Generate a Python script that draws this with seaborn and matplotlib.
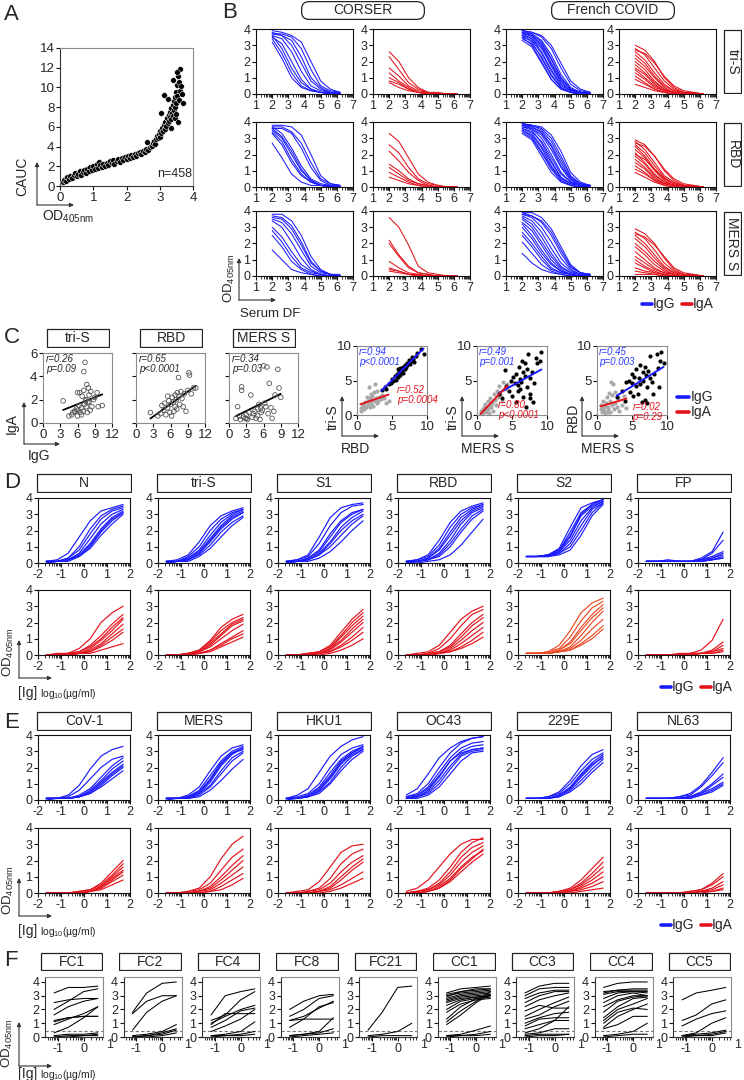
import numpy as np
import pandas as pd
import matplotlib
matplotlib.use("Agg")
import matplotlib.pyplot as plt
import seaborn as sns
from matplotlib.patches import FancyBboxPatch, FancyArrowPatch
from matplotlib.lines import Line2D

# ======================= DATA =======================
# Panel A: OD405nm vs CAUC
A_od = [0.08,0.12,0.18,0.22,0.27,0.31,0.36,0.41,0.45,0.5,0.55,0.6,0.63,0.68,0.72,0.77,0.82,0.86,0.9,0.95,
        1.0,1.04,1.1,1.13,1.17,1.2,1.25,1.3,1.36,1.4,1.45,1.5,1.55,1.6,1.63,1.7,1.75,1.8,1.86,1.9,1.95,
        2.0,2.05,2.1,2.15,2.2,2.25,2.3,2.35,2.4,2.45,2.5,2.55,2.6,2.65,2.7,2.73,2.77,2.8,2.83,2.86,2.9,
        2.92,2.95,2.98,3.0,3.02,3.05,3.07,3.1,3.12,3.15,3.17,3.2,3.22,3.24,3.27,3.29,3.3,3.32,3.34,3.35,
        3.37,3.39,3.4,3.42,3.43,3.45,3.46,3.48,3.5,3.52,3.53,3.55,3.57,3.58,3.6,3.62,3.64,3.68,3.12,3.25,
        3.33,3.45,3.5,3.7,3.55,2.62,3.05,3.4,3.52]
A_cauc = [0.4,0.6,0.5,0.9,0.7,1.0,0.8,1.1,1.3,1.0,1.2,1.5,1.1,1.4,1.6,1.3,1.7,1.5,1.9,1.6,
          2.0,1.7,2.2,1.8,2.4,2.1,1.9,2.2,2.0,2.3,2.1,2.5,2.3,2.6,2.2,2.5,2.7,2.4,2.8,2.6,2.9,
          2.7,3.0,2.8,3.1,2.9,3.2,3.0,3.3,3.4,3.2,3.6,3.5,3.8,3.7,4.0,4.2,4.1,4.4,4.6,4.3,4.8,
          5.1,4.9,5.3,5.0,5.6,5.4,5.9,5.6,6.2,5.8,6.5,6.1,6.9,6.4,7.2,6.6,7.5,7.0,7.9,6.8,
          7.4,8.2,7.1,8.6,7.7,9.0,8.0,9.5,8.4,10.2,9.1,11.2,8.7,10.6,11.9,9.6,10.1,9.3,9.2,8.8,
          5.9,6.9,7.3,8.4,6.5,4.5,7.4,10.8,11.6]

# Panel B: serum dilution curves (x = log10 dilution factor)
B_x = [2.0, 2.6, 3.2, 3.8, 4.4, 5.0, 5.6, 6.2]
B_row_labels = ["tri-S", "RBD", "MERS S"]
B_cohorts = ["CORSER", "French COVID"]

B_triS_corser_igg = [[3.9,3.8,3.6,3.2,2.0,0.8,0.3,0.1],[3.7,3.7,3.5,2.8,1.5,0.5,0.2,0.1],[3.8,3.6,3.3,2.3,1.0,0.4,0.1,0.1],
                     [3.6,3.4,2.6,1.4,0.5,0.2,0.1,0.0],[3.5,3.1,2.0,0.9,0.3,0.1,0.1,0.0],[3.6,2.8,1.6,0.7,0.3,0.1,0.0,0.0],
                     [3.4,2.5,1.3,0.5,0.2,0.1,0.0,0.0],[3.2,2.2,1.0,0.4,0.2,0.1,0.0,0.0],[3.7,3.6,3.0,1.9,0.8,0.3,0.1,0.0]]
B_triS_corser_iga = [[2.6,2.0,1.0,0.4,0.1,0.1,0.0,0.0],[2.3,1.5,0.7,0.3,0.1,0.0,0.0,0.0],[1.6,1.1,0.5,0.2,0.1,0.0,0.0,0.0],
                     [1.3,0.8,0.4,0.1,0.1,0.0,0.0,0.0],[0.8,0.6,0.3,0.1,0.0,0.0,0.0,0.0],[0.7,0.4,0.2,0.1,0.0,0.0,0.0,0.0],
                     [1.0,0.7,0.3,0.1,0.0,0.0,0.0,0.0]]
B_triS_french_igg = [[3.9,3.8,3.5,2.8,1.6,0.6,0.2,0.1],[3.8,3.7,3.3,2.4,1.2,0.4,0.1,0.1],[3.7,3.6,3.1,2.1,1.0,0.3,0.1,0.1],
                     [3.9,3.7,3.2,2.2,1.0,0.3,0.1,0.0],[3.6,3.4,2.8,1.8,0.8,0.3,0.1,0.0],[3.8,3.5,2.9,1.7,0.7,0.2,0.1,0.0],
                     [3.5,3.3,2.5,1.4,0.5,0.2,0.1,0.0],[3.7,3.4,2.6,1.5,0.6,0.2,0.1,0.0],[3.4,3.1,2.3,1.2,0.4,0.1,0.0,0.0],
                     [3.6,3.2,2.2,1.1,0.4,0.1,0.1,0.0],[3.5,3.0,2.0,0.9,0.3,0.1,0.0,0.0],[3.9,3.8,3.6,3.0,1.9,0.8,0.3,0.1],
                     [3.3,2.9,1.9,0.9,0.3,0.1,0.0,0.0],[3.8,3.6,3.0,1.9,0.9,0.3,0.1,0.0]]
B_triS_french_iga = [[3.0,2.7,2.0,1.0,0.4,0.1,0.1,0.0],[2.8,2.4,1.6,0.8,0.3,0.1,0.0,0.0],[2.6,2.1,1.3,0.6,0.2,0.1,0.0,0.0],
                     [2.4,1.9,1.1,0.5,0.2,0.1,0.0,0.0],[2.2,1.7,1.0,0.4,0.1,0.0,0.0,0.0],[2.0,1.5,0.8,0.3,0.1,0.0,0.0,0.0],
                     [1.8,1.3,0.7,0.3,0.1,0.0,0.0,0.0],[1.6,1.2,0.6,0.2,0.1,0.0,0.0,0.0],[1.5,1.0,0.5,0.2,0.1,0.0,0.0,0.0],
                     [1.3,0.9,0.4,0.2,0.1,0.0,0.0,0.0],[1.1,0.7,0.3,0.1,0.0,0.0,0.0,0.0],[0.9,0.6,0.3,0.1,0.0,0.0,0.0,0.0],
                     [0.6,0.4,0.2,0.1,0.0,0.0,0.0,0.0],[2.7,2.5,1.9,1.1,0.5,0.2,0.1,0.0]]
B_RBD_corser_igg = [[3.8,3.8,3.7,3.2,2.0,0.7,0.2,0.1],[3.7,3.7,3.4,2.7,1.5,0.5,0.2,0.1],[3.6,3.6,3.3,2.4,1.2,0.4,0.1,0.1],
                    [3.7,3.3,2.4,1.3,0.5,0.2,0.1,0.0],[3.5,3.0,2.0,1.0,0.4,0.1,0.1,0.0],[3.4,2.8,1.7,0.8,0.3,0.1,0.0,0.0],
                    [3.6,3.1,2.2,1.1,0.4,0.1,0.0,0.0],[3.3,2.6,1.5,0.7,0.3,0.1,0.0,0.0],[2.7,1.8,0.8,0.3,0.1,0.1,0.0,0.0]]
B_RBD_corser_iga = [[3.3,2.8,1.8,0.8,0.3,0.1,0.0,0.0],[2.6,2.1,1.2,0.5,0.2,0.1,0.0,0.0],[2.2,1.6,0.9,0.4,0.1,0.0,0.0,0.0],
                    [1.4,1.0,0.5,0.2,0.1,0.0,0.0,0.0],[1.2,0.8,0.4,0.2,0.1,0.0,0.0,0.0],[0.9,0.6,0.3,0.1,0.0,0.0,0.0,0.0],
                    [0.6,0.4,0.2,0.1,0.0,0.0,0.0,0.0]]
B_RBD_french_igg = [[3.9,3.8,3.7,3.2,2.2,0.9,0.3,0.1],[3.8,3.8,3.6,3.0,1.9,0.7,0.2,0.1],[3.9,3.7,3.4,2.6,1.5,0.5,0.2,0.1],
                    [3.7,3.6,3.2,2.3,1.2,0.4,0.1,0.1],[3.8,3.6,3.0,2.0,0.9,0.3,0.1,0.0],[3.6,3.4,2.8,1.8,0.8,0.3,0.1,0.0],
                    [3.7,3.5,2.7,1.6,0.6,0.2,0.1,0.0],[3.5,3.2,2.4,1.3,0.5,0.2,0.1,0.0],[3.6,3.3,2.5,1.5,0.6,0.2,0.1,0.0],
                    [3.4,3.0,2.1,1.1,0.4,0.1,0.0,0.0],[3.3,2.9,1.9,0.9,0.3,0.1,0.0,0.0],[3.8,3.7,3.3,2.5,1.3,0.5,0.1,0.0],
                    [3.5,3.1,2.2,1.2,0.4,0.1,0.0,0.0],[3.9,3.8,3.5,2.8,1.7,0.6,0.2,0.1]]
B_RBD_french_iga = [[2.9,2.6,1.9,1.0,0.4,0.1,0.1,0.0],[2.8,2.3,1.5,0.7,0.3,0.1,0.0,0.0],[2.6,2.1,1.3,0.6,0.2,0.1,0.0,0.0],
                    [2.5,1.9,1.1,0.5,0.2,0.1,0.0,0.0],[2.3,1.8,1.0,0.4,0.1,0.0,0.0,0.0],[2.1,1.5,0.8,0.3,0.1,0.0,0.0,0.0],
                    [1.9,1.4,0.7,0.3,0.1,0.0,0.0,0.0],[1.7,1.2,0.6,0.2,0.1,0.0,0.0,0.0],[1.5,1.1,0.5,0.2,0.1,0.0,0.0,0.0],
                    [1.3,0.9,0.4,0.2,0.1,0.0,0.0,0.0],[1.1,0.8,0.4,0.1,0.0,0.0,0.0,0.0],[0.9,0.6,0.3,0.1,0.0,0.0,0.0,0.0],
                    [2.7,2.5,1.9,1.1,0.5,0.2,0.1,0.0],[2.0,1.7,1.1,0.5,0.2,0.1,0.0,0.0]]
B_MERS_corser_igg = [[3.8,3.8,3.4,2.5,1.2,0.4,0.1,0.1],[3.7,3.6,3.1,2.1,0.9,0.3,0.1,0.0],[3.5,3.3,2.6,1.6,0.6,0.2,0.1,0.0],
                     [3.4,3.0,2.1,1.1,0.4,0.1,0.0,0.0],[3.0,2.4,1.5,0.7,0.3,0.1,0.0,0.0],[2.8,2.1,1.2,0.5,0.2,0.1,0.0,0.0],
                     [2.5,1.8,0.9,0.4,0.1,0.0,0.0,0.0],[1.6,1.0,0.4,0.2,0.1,0.0,0.0,0.0],[3.6,3.5,2.9,1.9,0.8,0.3,0.1,0.0]]
B_MERS_corser_iga = [[3.6,3.0,1.9,0.6,0.2,0.1,0.0,0.0],[2.2,1.3,0.6,0.2,0.1,0.0,0.0,0.0],[2.0,1.2,0.5,0.2,0.1,0.0,0.0,0.0],
                     [0.9,0.5,0.2,0.1,0.0,0.0,0.0,0.0],[0.5,0.3,0.1,0.1,0.0,0.0,0.0,0.0],[0.3,0.2,0.1,0.0,0.0,0.0,0.0,0.0],
                     [0.4,0.3,0.1,0.0,0.0,0.0,0.0,0.0]]
B_MERS_french_igg = [[3.9,3.9,3.6,2.9,1.8,0.7,0.2,0.1],[3.9,3.7,3.3,2.5,1.4,0.5,0.2,0.1],[3.8,3.6,3.0,2.1,1.1,0.4,0.1,0.1],
                     [3.7,3.4,2.7,1.7,0.8,0.3,0.1,0.0],[3.6,3.2,2.4,1.4,0.6,0.2,0.1,0.0],[3.5,3.0,2.1,1.2,0.5,0.2,0.1,0.0],
                     [3.3,2.8,1.9,1.0,0.4,0.1,0.0,0.0],[3.2,2.5,1.6,0.8,0.3,0.1,0.0,0.0],[3.0,2.3,1.4,0.7,0.3,0.1,0.0,0.0],
                     [2.7,2.0,1.2,0.5,0.2,0.1,0.0,0.0],[2.5,1.8,1.0,0.4,0.2,0.1,0.0,0.0],[2.1,1.4,0.7,0.3,0.1,0.0,0.0,0.0],
                     [1.4,0.8,0.4,0.2,0.1,0.0,0.0,0.0],[3.8,3.7,3.4,2.7,1.6,0.6,0.2,0.1]]
B_MERS_french_iga = [[2.9,2.6,2.0,1.1,0.4,0.1,0.1,0.0],[2.7,2.3,1.6,0.8,0.3,0.1,0.0,0.0],[2.5,2.0,1.3,0.6,0.2,0.1,0.0,0.0],
                     [2.3,1.8,1.1,0.5,0.2,0.1,0.0,0.0],[2.0,1.5,0.9,0.4,0.1,0.0,0.0,0.0],[1.8,1.3,0.7,0.3,0.1,0.0,0.0,0.0],
                     [1.5,1.0,0.5,0.2,0.1,0.0,0.0,0.0],[1.2,0.8,0.4,0.2,0.1,0.0,0.0,0.0],[1.0,0.6,0.3,0.1,0.0,0.0,0.0,0.0],
                     [0.8,0.5,0.2,0.1,0.0,0.0,0.0,0.0],[0.5,0.3,0.2,0.1,0.0,0.0,0.0,0.0],[0.3,0.2,0.1,0.0,0.0,0.0,0.0,0.0],
                     [0.1,0.1,0.1,0.0,0.0,0.0,0.0,0.0],[2.6,2.4,1.9,1.2,0.5,0.2,0.1,0.0]]

# Panel C (left): IgA vs IgG CAUC
C_titles = ["tri-S", "RBD", "MERS S"]
C_stats = ["r=0.26\np=0.09", "r=0.65\np<0.0001", "r=0.34\np=0.03"]
C_triS_igg = [3.5,4.5,5.0,5.2,5.5,5.8,6.0,6.1,6.3,6.4,6.5,6.7,6.8,7.0,7.1,7.2,7.3,7.4,7.5,7.5,7.6,7.7,7.8,7.9,8.0,8.2,8.3,8.5,8.8,9.0,9.4,9.6,10.3,7.1,6.0,6.7,8.0,5.6]
C_triS_iga = [1.9,0.6,0.7,0.9,1.0,1.2,0.6,1.1,1.5,2.6,0.9,1.3,2.3,1.0,2.8,1.6,5.2,1.9,2.0,1.4,3.3,0.9,1.8,3.0,2.4,1.1,2.7,1.4,2.0,2.2,2.6,1.4,1.5,4.4,2.6,0.7,1.8,1.0]
C_RBD_igg = [2.5,3.8,4.3,4.5,4.8,5.0,5.2,5.5,5.7,5.9,6.0,6.2,6.3,6.5,6.6,6.8,7.0,7.1,7.2,7.4,7.5,7.6,7.8,8.0,8.2,8.4,8.7,9.0,9.2,9.3,9.6,10.0,10.4,6.8,5.5]
C_RBD_iga = [0.9,0.6,0.8,1.5,1.1,1.7,0.7,1.3,1.9,0.9,1.6,0.6,2.2,1.8,1.0,2.4,2.0,1.2,2.6,3.9,2.3,1.6,2.7,2.1,1.4,2.5,1.0,2.8,4.3,4.1,2.5,3.0,3.0,1.4,2.3]
C_MERS_igg = [1.2,1.5,1.8,2.0,2.2,2.2,2.5,2.8,3.0,3.2,3.5,3.8,4.0,4.2,4.5,4.7,5.0,5.0,5.2,5.4,5.6,5.8,6.0,6.2,6.4,6.6,6.8,7.0,7.3,7.5,7.8,8.0,8.5,8.7,9.0,5.5,3.0]
C_MERS_iga = [0.4,1.4,0.6,0.3,3.1,2.8,0.5,0.4,0.7,0.3,0.9,2.4,0.5,0.8,1.0,0.4,1.2,0.6,1.6,0.3,0.9,1.1,4.9,1.7,1.4,4.8,0.8,3.4,1.3,0.4,1.0,2.4,4.6,3.0,2.2,1.3,0.4]

# Panel C (right): antigen-vs-antigen CAUC for IgG and IgA
CR_xlabels = ["RBD", "MERS S", "MERS S"]
CR_ylabels = ["tri-S", "tri-S", "RBD"]
CR_stats_igg = ["r=0.94\np<0.0001", "r=0.49\np=0.001", "r=0.45\np=0.003"]
CR_stats_iga = ["r=0.52\np=0.0004", "r=0.80\np<0.0001", "r=0.02\np=0.29"]
CR1_igg_x = [3.5,4.0,4.2,4.5,4.8,5.0,5.2,5.4,5.5,5.7,5.8,6.0,6.1,6.2,6.4,6.5,6.6,6.8,7.0,7.1,7.2,7.4,7.5,7.7,7.8,8.0,8.2,8.4,8.6,9.2,9.5,6.9,5.9]
CR1_igg_y = [3.6,4.1,3.8,4.5,4.7,5.2,4.9,5.6,5.1,6.0,5.5,6.3,5.8,6.8,6.4,7.0,6.1,7.3,6.9,7.6,7.2,8.0,7.4,7.8,8.4,8.1,7.7,8.6,9.0,9.6,8.8,6.6,6.6]
CR1_iga_x = [0.5,0.6,0.8,1.0,1.2,1.3,1.5,1.6,1.7,1.8,1.9,2.0,2.1,2.2,2.3,2.4,2.5,2.6,2.7,2.8,3.0,3.2,3.4,3.6,3.8,4.2,4.5,1.4,2.0,0.9,2.9]
CR1_iga_y = [0.6,1.0,1.5,0.8,1.9,1.2,2.0,1.5,4.0,2.4,1.1,1.7,2.8,2.2,1.3,3.3,2.0,4.5,2.5,1.8,2.1,2.6,2.3,2.9,2.4,1.7,2.1,2.6,3.1,1.3,3.5]
CR2_igg_x = [3.2,3.5,4.0,4.2,4.5,4.8,5.0,5.2,5.4,5.5,5.6,5.8,6.0,6.1,6.2,6.3,6.5,6.6,6.8,6.9,7.0,7.1,7.2,7.3,7.5,7.6,7.8,8.0,8.2,8.4,8.6,9.0,9.2,7.5,6.4,5.9]
CR2_igg_y = [3.1,2.5,6.5,4.2,3.5,5.0,2.8,5.5,4.7,1.9,6.0,3.5,7.0,5.2,3.8,4.8,6.3,2.6,7.5,5.6,1.1,4.1,6.6,8.8,5.3,3.0,6.2,1.9,4.7,8.2,7.6,7.8,9.2,2.5,7.8,4.4]
CR2_iga_x = [0.5,0.6,0.8,0.9,1.0,1.1,1.2,1.3,1.4,1.5,1.6,1.8,1.9,2.0,2.2,2.4,2.5,2.7,2.8,3.0,3.2,3.3,3.5,3.7,4.0,4.3,0.7,1.7,2.3]
CR2_iga_y = [0.3,0.6,0.9,0.4,1.2,0.7,1.6,0.5,1.0,2.0,0.8,1.4,2.5,1.1,1.8,3.0,2.2,1.5,3.5,2.6,4.2,3.1,2.0,4.8,3.8,4.5,0.2,0.3,0.6]
CR3_igg_x = [2.8,3.5,4.0,4.2,4.5,4.7,5.0,5.2,5.3,5.5,5.6,5.8,6.0,6.1,6.2,6.4,6.5,6.6,6.8,6.9,7.0,7.1,7.2,7.3,7.5,7.6,7.8,8.0,8.2,8.5,8.8,9.0,9.2,8.7,9.5,5.0]
CR3_igg_y = [2.6,3.5,2.1,4.8,5.0,3.4,6.0,2.8,5.5,4.2,6.6,3.0,5.3,7.2,4.5,1.9,6.2,5.0,2.2,7.0,5.8,1.8,4.0,6.4,8.5,5.4,4.8,3.0,6.0,8.8,4.0,7.8,9.2,6.8,7.6,4.6]
CR3_iga_x = [0.5,0.6,0.7,0.8,0.9,1.0,1.1,1.2,1.3,1.4,1.5,1.6,1.7,1.8,1.9,2.0,2.1,2.2,2.3,2.4,2.5,2.6,2.8,3.0,3.2,3.5,3.8,4.2,0.9,1.6]
CR3_iga_y = [0.8,1.5,0.4,1.0,2.1,0.6,1.3,0.3,1.7,2.6,0.9,1.2,3.2,0.5,2.0,4.8,1.4,2.9,4.5,0.8,1.8,3.4,1.1,2.4,0.6,1.5,2.8,1.0,0.7,0.4]

# Panels D and E: purified Ig titrations (x = log10 ug/ml)
DE_x = [-1.64, -1.16, -0.69, -0.21, 0.27, 0.74, 1.22, 1.70]
D_titles = ["N", "tri-S", "S1", "RBD", "S2", "FP"]
E_titles = ["CoV-1", "MERS", "HKU1", "OC43", "229E", "NL63"]

D_N_igg = [[0.1,0.2,0.6,1.6,2.6,3.2,3.4,3.6],[0.1,0.1,0.3,1.0,2.1,2.9,3.3,3.5],[0.1,0.1,0.3,0.8,1.8,2.7,3.2,3.4],[0.1,0.1,0.2,0.6,1.5,2.4,3.0,3.3],
           [0.1,0.1,0.2,0.5,1.2,2.1,2.8,3.2],[0.0,0.1,0.2,0.4,1.0,1.9,2.6,3.1],[0.0,0.1,0.1,0.4,0.9,1.7,2.4,3.0],[0.1,0.1,0.2,0.5,1.1,2.0,2.7,3.1]]
D_N_iga = [[0.0,0.1,0.1,0.4,1.0,2.0,2.6,3.0],[0.0,0.0,0.1,0.2,0.6,1.2,1.9,2.5],[0.0,0.0,0.1,0.2,0.5,1.0,1.7,2.3],[0.0,0.0,0.1,0.1,0.4,0.9,1.5,2.2],
           [0.0,0.0,0.0,0.1,0.3,0.7,1.3,1.9],[0.0,0.0,0.0,0.1,0.2,0.6,1.1,1.6],[0.0,0.0,0.0,0.1,0.2,0.5,0.9,1.4],[0.0,0.0,0.0,0.1,0.1,0.3,0.5,0.7]]
D_triS_igg = [[0.1,0.2,0.5,1.3,2.3,2.9,3.2,3.4],[0.1,0.1,0.4,1.0,2.0,2.7,3.1,3.3],[0.1,0.1,0.3,0.8,1.7,2.5,3.0,3.3],[0.1,0.1,0.3,0.7,1.5,2.3,2.9,3.2],
              [0.0,0.1,0.2,0.6,1.3,2.1,2.7,3.1],[0.0,0.1,0.2,0.5,1.1,1.9,2.5,2.9],[0.0,0.1,0.1,0.4,0.9,1.6,2.3,2.8],[0.1,0.1,0.2,0.6,1.4,2.2,2.8,3.1]]
D_triS_iga = [[0.0,0.0,0.1,0.3,0.9,1.7,2.2,2.5],[0.0,0.0,0.1,0.3,0.8,1.5,2.0,2.3],[0.0,0.0,0.1,0.2,0.7,1.3,1.9,2.2],[0.0,0.0,0.1,0.2,0.6,1.2,1.8,2.1],
              [0.0,0.0,0.0,0.2,0.5,1.0,1.5,1.9],[0.0,0.0,0.0,0.1,0.3,0.7,1.1,1.5],[0.0,0.0,0.0,0.1,0.3,0.6,1.0,1.3],[0.0,0.0,0.0,0.1,0.2,0.5,0.8,1.1]]
D_S1_igg = [[0.1,0.2,0.5,1.6,2.8,3.4,3.6,3.7],[0.1,0.2,0.4,1.2,2.3,3.1,3.5,3.6],[0.1,0.1,0.3,0.8,1.8,2.6,3.1,3.3],[0.1,0.1,0.3,0.7,1.6,2.5,3.0,3.3],
            [0.0,0.1,0.2,0.6,1.3,2.2,2.8,3.2],[0.0,0.1,0.2,0.5,1.0,1.7,2.4,2.9],[0.0,0.1,0.1,0.3,0.7,1.3,2.0,2.6],[0.1,0.1,0.2,0.5,1.2,2.0,2.6,3.0]]
D_S1_iga = [[0.0,0.0,0.1,0.2,0.6,1.4,2.2,2.8],[0.0,0.0,0.1,0.2,0.5,1.2,2.0,2.6],[0.0,0.0,0.1,0.1,0.4,1.1,1.8,2.4],[0.0,0.0,0.0,0.1,0.4,0.9,1.6,2.2],
            [0.0,0.0,0.0,0.1,0.3,0.8,1.4,2.0],[0.0,0.0,0.0,0.1,0.2,0.6,1.1,1.7],[0.0,0.0,0.0,0.1,0.2,0.5,0.9,1.4],[0.0,0.0,0.0,0.0,0.1,0.3,0.6,1.0]]
D_RBD_igg = [[0.1,0.2,0.5,1.4,2.5,3.2,3.5,3.7],[0.1,0.2,0.4,1.1,2.2,3.0,3.4,3.6],[0.1,0.1,0.3,0.9,1.9,2.8,3.3,3.6],[0.1,0.1,0.3,0.8,1.7,2.6,3.2,3.5],
             [0.1,0.1,0.2,0.6,1.4,2.4,3.1,3.4],[0.0,0.1,0.2,0.5,1.2,2.1,2.9,3.3],[0.0,0.1,0.2,0.4,1.0,1.9,2.7,3.2],[0.0,0.0,0.1,0.2,0.5,1.1,1.9,2.7]]
D_RBD_iga = [[0.0,0.1,0.2,0.6,1.4,2.2,2.7,3.0],[0.0,0.0,0.1,0.4,1.0,1.8,2.5,2.8],[0.0,0.0,0.1,0.2,0.6,1.3,2.0,2.5],[0.0,0.0,0.1,0.2,0.5,1.1,1.8,2.3],
             [0.0,0.0,0.0,0.1,0.4,0.9,1.5,2.0],[0.0,0.0,0.0,0.1,0.3,0.7,1.2,1.7],[0.0,0.0,0.0,0.1,0.2,0.5,0.9,1.4],[0.0,0.0,0.0,0.1,0.2,0.4,0.7,1.1]]
D_S2_igg = [[0.4,0.4,0.5,0.9,2.2,3.4,3.7,3.9],[0.4,0.4,0.5,0.8,1.9,3.1,3.6,3.9],[0.4,0.4,0.5,0.7,1.6,2.9,3.5,3.8],[0.4,0.4,0.4,0.7,1.4,2.6,3.4,3.8],
            [0.4,0.4,0.4,0.6,1.2,2.3,3.3,3.7],[0.4,0.4,0.4,0.6,1.0,2.0,3.1,3.7],[0.4,0.4,0.4,0.5,0.8,1.7,2.9,3.6],[0.4,0.4,0.5,0.8,1.7,3.0,3.6,3.9]]
D_S2_iga = [[0.1,0.1,0.2,0.6,1.5,2.6,3.2,3.5],[0.1,0.1,0.2,0.4,1.1,2.1,2.9,3.3],[0.1,0.1,0.1,0.3,0.8,1.7,2.5,3.1],[0.1,0.1,0.1,0.3,0.7,1.5,2.3,2.9],
            [0.1,0.1,0.1,0.2,0.5,1.2,2.0,2.7],[0.1,0.1,0.1,0.2,0.4,0.9,1.6,2.2],[0.1,0.1,0.1,0.2,0.3,0.7,1.2,1.8],[0.1,0.1,0.1,0.2,0.3,0.6,1.0,1.6]]
D_FP_igg = [[0.1,0.1,0.1,0.1,0.1,0.3,0.7,1.9],[0.1,0.1,0.1,0.1,0.1,0.2,0.6,1.4],[0.1,0.1,0.1,0.1,0.1,0.2,0.4,0.7],[0.1,0.1,0.1,0.1,0.1,0.2,0.3,0.6],
            [0.1,0.1,0.1,0.1,0.1,0.1,0.3,0.5],[0.1,0.1,0.2,0.1,0.1,0.1,0.2,0.4],[0.1,0.1,0.1,0.1,0.1,0.1,0.2,0.3],[0.1,0.1,0.1,0.1,0.1,0.1,0.2,0.3]]
D_FP_iga = [[0.0,0.0,0.0,0.1,0.1,0.3,0.9,2.2],[0.0,0.0,0.0,0.0,0.1,0.1,0.3,0.8],[0.0,0.0,0.0,0.0,0.1,0.1,0.2,0.6],[0.0,0.0,0.0,0.0,0.0,0.1,0.2,0.4],
            [0.0,0.0,0.0,0.0,0.0,0.1,0.1,0.3],[0.0,0.0,0.0,0.0,0.0,0.1,0.1,0.2]]

E_CoV1_igg = [[0.1,0.1,0.3,0.9,1.9,2.7,3.1,3.3],[0.1,0.1,0.2,0.6,1.3,2.0,2.5,2.7],[0.1,0.1,0.1,0.3,0.7,1.4,2.1,2.6],[0.1,0.1,0.1,0.2,0.6,1.2,1.9,2.4],
              [0.1,0.1,0.1,0.2,0.5,1.1,1.7,2.2],[0.1,0.1,0.1,0.2,0.4,0.9,1.5,2.0],[0.0,0.1,0.1,0.2,0.4,0.8,1.3,1.8],[0.1,0.1,0.1,0.2,0.5,1.0,1.6,2.1]]
E_CoV1_iga = [[0.0,0.0,0.0,0.1,0.2,0.6,1.3,2.0],[0.0,0.0,0.0,0.1,0.2,0.5,1.1,1.8],[0.0,0.0,0.0,0.0,0.1,0.4,1.0,1.6],[0.0,0.0,0.0,0.0,0.1,0.4,0.9,1.4],
              [0.0,0.0,0.0,0.0,0.1,0.3,0.8,1.3],[0.0,0.0,0.0,0.0,0.1,0.3,0.7,1.1],[0.0,0.0,0.0,0.0,0.1,0.2,0.5,0.8]]
E_MERS_igg = [[0.1,0.1,0.3,0.8,1.8,2.7,3.2,3.4],[0.1,0.1,0.2,0.6,1.5,2.4,3.0,3.3],[0.1,0.1,0.2,0.5,1.3,2.3,2.9,3.2],[0.1,0.1,0.2,0.4,1.1,2.1,2.8,3.2],
              [0.1,0.1,0.1,0.4,0.9,1.8,2.6,3.0],[0.1,0.1,0.1,0.3,0.8,1.6,2.4,2.9],[0.0,0.1,0.1,0.2,0.6,1.2,1.9,2.5],[0.1,0.1,0.2,0.5,1.2,2.2,2.9,3.1]]
E_MERS_iga = [[0.0,0.0,0.1,0.3,1.0,2.1,3.0,3.5],[0.0,0.0,0.1,0.2,0.6,1.4,2.2,2.7],[0.0,0.0,0.0,0.1,0.4,1.0,1.7,2.3],[0.0,0.0,0.0,0.1,0.3,0.8,1.4,2.0],
              [0.0,0.0,0.0,0.1,0.2,0.6,1.1,1.6],[0.0,0.0,0.0,0.0,0.1,0.4,0.8,1.2],[0.0,0.0,0.0,0.0,0.1,0.2,0.5,0.9]]
E_HKU1_igg = [[0.1,0.3,0.7,1.7,2.7,3.3,3.7,3.9],[0.1,0.2,0.4,1.0,2.0,2.8,3.2,3.4],[0.1,0.1,0.3,0.8,1.7,2.5,3.0,3.3],[0.1,0.1,0.3,0.7,1.5,2.4,2.9,3.2],
              [0.1,0.1,0.2,0.6,1.3,2.2,2.8,3.1],[0.1,0.1,0.2,0.5,1.1,2.0,2.7,3.1],[0.0,0.1,0.2,0.4,1.0,1.8,2.5,3.0],[0.1,0.1,0.2,0.6,1.4,2.3,2.9,3.3]]
E_HKU1_iga = [[0.0,0.1,0.2,0.7,1.6,2.5,2.9,3.0],[0.0,0.0,0.1,0.3,0.9,1.8,2.4,2.7],[0.0,0.0,0.1,0.2,0.6,1.3,1.9,2.3],[0.0,0.0,0.0,0.1,0.4,1.0,1.6,2.1],
              [0.0,0.0,0.0,0.1,0.3,0.8,1.4,1.9],[0.0,0.0,0.0,0.1,0.2,0.5,0.9,1.3],[0.0,0.0,0.0,0.0,0.1,0.3,0.6,0.9]]
E_OC43_igg = [[0.3,0.7,1.6,2.6,3.2,3.6,3.8,3.9],[0.2,0.4,1.0,2.0,2.9,3.5,3.8,3.9],[0.2,0.3,0.8,1.7,2.6,3.2,3.5,3.6],[0.1,0.3,0.7,1.5,2.4,2.9,3.1,3.2],
              [0.1,0.2,0.5,1.2,2.1,2.8,3.1,3.2],[0.1,0.2,0.4,1.0,1.9,2.7,3.0,3.1],[0.1,0.1,0.3,0.8,1.6,2.4,2.9,3.0],[0.1,0.2,0.6,1.4,2.4,3.0,3.3,3.4]]
E_OC43_iga = [[0.1,0.3,0.8,1.6,2.4,3.0,3.3,3.3],[0.0,0.1,0.3,0.8,1.6,2.5,3.1,3.4],[0.0,0.1,0.2,0.6,1.3,2.2,2.8,3.1],[0.0,0.1,0.2,0.5,1.1,1.9,2.5,2.9],
              [0.0,0.0,0.1,0.4,0.9,1.6,2.2,2.6],[0.0,0.0,0.1,0.3,0.7,1.3,1.9,2.4],[0.0,0.0,0.1,0.3,0.8,1.5,2.1,2.7]]
E_229E_igg = [[0.1,0.1,0.2,0.5,1.2,2.1,2.8,3.1],[0.1,0.1,0.2,0.4,1.0,1.8,2.5,2.9],[0.1,0.1,0.1,0.3,0.8,1.6,2.3,2.8],[0.1,0.1,0.1,0.3,0.7,1.4,2.1,2.7],
              [0.1,0.1,0.1,0.2,0.6,1.2,1.9,2.5],[0.1,0.1,0.1,0.2,0.5,1.0,1.7,2.3],[0.1,0.1,0.1,0.3,0.7,1.5,2.2,2.6]]
E_229E_iga = [[0.0,0.0,0.0,0.1,0.3,0.8,1.5,2.2],[0.0,0.0,0.0,0.1,0.2,0.6,1.2,1.9],[0.0,0.0,0.0,0.1,0.2,0.5,1.0,1.6],[0.0,0.0,0.0,0.0,0.1,0.4,0.8,1.3],
              [0.0,0.0,0.0,0.0,0.1,0.3,0.6,1.0],[0.0,0.0,0.0,0.0,0.1,0.2,0.4,0.7],[0.0,0.0,0.0,0.0,0.0,0.1,0.2,0.3]]
E_NL63_igg = [[0.1,0.1,0.1,0.2,0.4,0.9,1.7,2.6],[0.1,0.1,0.1,0.2,0.3,0.8,1.5,2.3],[0.1,0.1,0.1,0.1,0.2,0.5,1.0,1.6],[0.1,0.1,0.1,0.1,0.2,0.4,0.9,1.4],
              [0.1,0.1,0.1,0.1,0.2,0.4,0.7,1.1],[0.1,0.1,0.1,0.1,0.1,0.3,0.6,1.0],[0.1,0.1,0.1,0.1,0.1,0.3,0.5,0.9]]
E_NL63_iga = [[0.0,0.0,0.0,0.0,0.1,0.2,0.6,1.2],[0.0,0.0,0.0,0.0,0.1,0.2,0.5,1.0],[0.0,0.0,0.0,0.0,0.0,0.1,0.3,0.7],[0.0,0.0,0.0,0.0,0.0,0.1,0.2,0.5],
              [0.0,0.0,0.0,0.0,0.0,0.1,0.1,0.3],[0.0,0.0,0.0,0.0,0.0,0.0,0.1,0.2]]

# Panel F: monoclonal/cohort titrations
F_x = [-1.15, -0.6, 0.0, 0.55]
F_titles = ["FC1", "FC2", "FC4", "FC8", "FC21", "CC1", "CC3", "CC4", "CC5"]
F_cutoff = 0.45
F_FC1 = [[3.2,3.6,3.6,3.7],[2.5,2.7,2.8,2.8],[2.0,2.6,3.3,3.5],[1.6,2.2,2.6,2.8],[1.2,1.4,1.5,1.5],[1.1,1.4,1.5,1.5],
         [0.9,1.3,1.7,2.2],[0.3,0.7,1.4,2.2],[0.1,0.2,0.2,0.3],[0.0,0.1,0.1,0.2],[0.0,0.0,0.1,0.1]]
F_FC2 = [[1.8,3.2,3.9,4.0],[1.7,2.6,3.0,3.0],[0.5,1.8,2.6,3.0],[0.1,0.2,0.4,0.9],[0.0,0.1,0.3,0.6],[0.0,0.1,0.2,0.5],[0.0,0.0,0.1,0.3]]
F_FC4 = [[1.6,3.0,3.3,3.5],[1.2,1.6,2.7,3.3],[1.0,1.5,2.0,2.3],[0.9,1.7,1.7,1.7],[0.7,1.2,1.9,2.1],[0.4,0.8,1.3,2.0],
         [0.1,0.2,0.4,1.1],[0.1,0.1,0.2,0.4],[0.0,0.1,0.1,0.2]]
F_FC8 = [[2.0,2.6,3.0,3.1],[1.5,2.0,2.8,3.0],[1.2,1.3,1.3,1.3],[1.2,1.5,2.1,2.6],[0.7,1.3,2.2,2.5],[0.1,0.2,0.4,1.4],
         [0.1,0.2,0.3,0.6],[0.0,0.1,0.2,0.3]]
F_FC21 = [[0.5,1.8,3.6,3.7],[0.1,0.2,0.4,1.0],[0.0,0.1,0.1,0.1]]
F_CC1 = [[3.2,3.5,3.6,3.7],[3.1,3.3,3.4,3.5],[3.0,3.2,3.3,3.4],[2.8,3.1,3.2,3.3],[2.7,3.0,3.1,3.2],[2.6,2.9,3.0,3.1],
         [2.5,2.8,2.9,3.0],[2.3,2.7,2.9,3.0],[2.0,2.6,2.8,2.9],[1.8,2.4,2.7,2.8],[1.3,2.2,2.8,3.0],[1.1,1.9,2.6,3.3],
         [0.9,1.6,2.5,3.1],[2.9,3.3,3.5,3.5],[0.1,0.2,0.5,0.8],[0.1,0.1,0.2,0.4],[0.0,0.1,0.1,0.2]]
F_CC3 = [[3.2,3.7,3.9,3.9],[3.0,3.5,3.6,3.6],[2.8,3.2,3.4,3.4],[2.5,3.0,3.3,3.3],[2.2,2.7,3.0,3.2],[1.9,2.3,2.1,2.1],
         [1.5,2.0,2.5,2.9],[1.3,1.6,2.2,2.6],[1.0,1.4,1.7,1.8],[0.8,1.3,1.4,1.4],[0.6,0.9,1.2,1.2],[0.3,0.6,1.2,2.2],
         [0.2,0.3,0.6,0.6],[0.1,0.2,0.2,0.2],[0.0,0.1,0.1,0.2]]
F_CC4 = [[3.6,3.9,4.0,4.0],[3.3,3.4,3.5,3.5],[3.2,3.4,3.4,3.4],[3.1,3.3,3.3,3.3],[2.8,3.2,3.3,3.2],[2.5,3.0,3.2,3.0],
         [2.2,2.7,3.0,3.0],[1.8,2.6,2.9,3.0],[1.4,2.2,2.8,2.9],[1.2,2.0,2.4,2.8],[1.0,1.8,2.1,2.0],[0.7,1.5,2.0,2.4],
         [0.6,0.9,1.5,1.5],[0.1,0.2,0.4,1.0],[0.0,0.1,0.2,0.2]]
F_CC5 = [[2.7,3.2,3.4,3.6],[1.2,1.6,2.4,2.7],[0.8,1.3,1.7,1.9],[0.1,0.3,1.0,1.4],[0.1,0.2,0.3,0.5],[0.1,0.1,0.2,0.4],[0.0,0.1,0.1,0.3]]

# ======================= STYLE / LAYOUT =======================
sns.set_theme(style="ticks")
plt.rcParams['font.family'] = ['Liberation Sans', 'DejaVu Sans']
plt.rcParams['mathtext.fontset'] = 'custom'
plt.rcParams['mathtext.rm'] = 'Liberation Sans'
plt.rcParams['mathtext.it'] = 'Liberation Sans:italic'
plt.rcParams['axes.unicode_minus'] = False

BLUE = '#1a1aff'
RED = '#e3121b'
ORANGE = '#ec4a22'
GRAYF = '#8c8c8c'

W, H = 744, 1080
fig = plt.figure(figsize=(7.44, 10.8), dpi=100)


def px(l, t, w, h):
    return [l / W, 1 - (t + h) / H, w / W, h / H]


def fx(x):
    return x / W


def fy(y):
    return 1 - y / H


def ftext(x, y, s, **kw):
    kw.setdefault('va', 'center')
    fig.text(fx(x), fy(y), s, **kw)


def farrow(x0, y0, x1, y1):
    fig.add_artist(FancyArrowPatch((fx(x0), fy(y0)), (fx(x1), fy(y1)), transform=fig.transFigure,
                                   arrowstyle='-|>', mutation_scale=6, lw=0.8, color='#333333',
                                   shrinkA=0, shrinkB=0))


def elbow(x, y, top, right):
    farrow(x, y, x, top)
    farrow(x, y, right, y)


def tbox(l, t, w, h, s, fs=10, rounded=False, rot=0):
    bx = fig.add_axes(px(l, t, w, h))
    bx.set_xlim(0, w)
    bx.set_ylim(0, h)
    bx.axis('off')
    st = f'round,pad=0,rounding_size={h * 0.4:.1f}' if rounded else 'square,pad=0'
    bx.add_patch(FancyBboxPatch((0.6, 0.6), w - 1.2, h - 1.2, boxstyle=st, fc='white', ec='#222222', lw=0.9))
    bx.text(w / 2, h / 2, s, ha='center', va='center', fontsize=fs, rotation=rot)


def hlegend(x, y, fs=10):
    for dx, c, lab in [(0, BLUE, 'IgG'), (40, RED, 'IgA')]:
        fig.add_artist(Line2D([fx(x + dx), fx(x + dx + 10)], [fy(y), fy(y)], color=c, lw=2.6))
        ftext(x + dx + 11, y, lab, ha='left', fontsize=fs)


def logminor(a, b, lo=-99, hi=99):
    return [n + np.log10(k) for n in range(a, b) for k in range(2, 10) if lo <= n + np.log10(k) <= hi]


def style(ax, xlim, ylim, xticks, yticks, frame='#111111', lb='#111111', fs=9, minor=None,
          xlabels=True, ylabels=True):
    ax.set_xlim(*xlim)
    ax.set_ylim(*ylim)
    ax.set_xticks(list(xticks))
    ax.set_yticks(list(yticks))
    ax.set_xticklabels([f'{v:g}' for v in xticks] if xlabels else [])
    ax.set_yticklabels([f'{v:g}' for v in yticks] if ylabels else [])
    if minor is not None:
        ax.set_xticks(minor, minor=True)
    for s in ['top', 'right']:
        ax.spines[s].set_color(frame)
        ax.spines[s].set_visible(True)
    for s in ['left', 'bottom']:
        ax.spines[s].set_color(lb)
    for s in ax.spines.values():
        s.set_linewidth(0.8)
    ax.tick_params(axis='both', which='major', length=3, width=0.8, pad=1, labelsize=fs,
                   color='#111111', direction='out', top=False, right=False)
    ax.tick_params(axis='x', which='minor', length=1.8, width=0.6, bottom=True, top=False, color='#111111')
    ax.set_xlabel('')
    ax.set_ylabel('')
    ax.set_facecolor('white')


def draw_curves(ax, xs, curves, color, lw=0.8):
    rows = [(i, x, y) for i, c in enumerate(curves) for x, y in zip(xs, c)]
    df = pd.DataFrame(rows, columns=['c', 'x', 'y'])
    sns.lineplot(data=df, x='x', y='y', units='c', estimator=None, color=color, lw=lw,
                 ax=ax, legend=False, sort=True)


# ======================= PANEL A =======================
ftext(4, 14, 'A', fontsize=16, ha='left')
axA = fig.add_axes(px(60, 48, 133, 138))
sns.scatterplot(x=A_od, y=A_cauc, ax=axA, color='black', s=17, edgecolor='white', linewidth=0.35, zorder=3)
style(axA, (0, 4), (0, 14), range(0, 5), range(0, 15, 2), frame=GRAYF, lb='#333333', fs=9.5)
axA.text(0.99, 0.04, 'n=458', transform=axA.transAxes, ha='right', va='bottom', fontsize=9)
ftext(22, 176, 'CAUC', rotation=90, ha='center', fontsize=10)
elbow(37, 205, 162, 74)
ftext(42, 217, r'OD$_\mathrm{405nm}$', ha='left', fontsize=10)

# ======================= PANEL B =======================
ftext(222, 12, 'B', fontsize=16, ha='left')
tbox(301, 1, 124, 19, B_cohorts[0], rounded=True)
tbox(551, 1, 124, 19, B_cohorts[1], rounded=True)
B_lefts = [256, 373, 506, 619]
B_tops = [29, 122, 211]
B_w, B_h = 97, 65
B_data = [
    [B_triS_corser_igg, B_triS_corser_iga, B_triS_french_igg, B_triS_french_iga],
    [B_RBD_corser_igg, B_RBD_corser_iga, B_RBD_french_igg, B_RBD_french_iga],
    [B_MERS_corser_igg, B_MERS_corser_iga, B_MERS_french_igg, B_MERS_french_iga],
]
for r, top in enumerate(B_tops):
    for c, left in enumerate(B_lefts):
        ax = fig.add_axes(px(left, top, B_w, B_h))
        draw_curves(ax, B_x, B_data[r][c], BLUE if c % 2 == 0 else RED, lw=0.75)
        style(ax, (1, 7), (0, 4), range(1, 8), range(0, 5), minor=logminor(1, 7))
    tbox(723, top, 19, B_h, B_row_labels[r], rot=-90)
ftext(229, 278, r'OD$_\mathrm{405nm}$', rotation=90, ha='center', fontsize=9.5)
elbow(239, 300, 258, 276)
ftext(240, 314, 'Serum DF', ha='left', fontsize=9.5)
hlegend(642, 304)

# ======================= PANEL C =======================
ftext(4, 338, 'C', fontsize=16, ha='left')
CL_lefts = [43, 136, 229]
CL_x = [C_triS_igg, C_RBD_igg, C_MERS_igg]
CL_y = [C_triS_iga, C_RBD_iga, C_MERS_iga]
for i, left in enumerate(CL_lefts):
    ax = fig.add_axes(px(left, 353, 69, 70))
    sns.scatterplot(x=CL_x[i], y=CL_y[i], ax=ax, s=11, color='#555555', linewidth=0.6, zorder=3)
    pts = ax.collections[-1]
    pts.set_facecolor('none')
    pts.set_edgecolor('#555555')
    sns.regplot(x=CL_x[i], y=CL_y[i], ax=ax, scatter=False, ci=None, truncate=True,
                color='black', line_kws={'lw': 1.3})
    style(ax, (0, 12), (0, 6), [0, 3, 6, 9, 12], [0, 2, 4, 6], frame=GRAYF, lb=GRAYF, fs=9.5,
          ylabels=(i == 0))
    ax.text(0.04, 0.98, C_stats[i], transform=ax.transAxes, ha='left', va='top', fontsize=7,
            style='italic', linespacing=1.0)
    tbox(left + 3, 328, 64, 20, C_titles[i], fs=10)
ftext(12, 424, 'IgA', rotation=90, ha='center', fontsize=10)
elbow(24, 444, 402, 60)
ftext(28, 456, 'IgG', ha='left', fontsize=10)

CR_lefts = [357, 477, 597]
CR_gx = [CR1_igg_x, CR2_igg_x, CR3_igg_x]
CR_gy = [CR1_igg_y, CR2_igg_y, CR3_igg_y]
CR_ax_ = [CR1_iga_x, CR2_iga_x, CR3_iga_x]
CR_ay = [CR1_iga_y, CR2_iga_y, CR3_iga_y]
CR_red_pos = [(5.7, 4.4), (3.0, 2.2), (5.1, 1.9)]
for i, left in enumerate(CR_lefts):
    ax = fig.add_axes(px(left, 346, 70, 69))
    sns.scatterplot(x=CR_ax_[i], y=CR_ay[i], ax=ax, s=9, color='#a8a8a8', linewidth=0, zorder=2)
    sns.scatterplot(x=CR_gx[i], y=CR_gy[i], ax=ax, s=9, color='black', linewidth=0, zorder=3)
    sns.regplot(x=CR_gx[i], y=CR_gy[i], ax=ax, scatter=False, ci=None, truncate=True,
                color=BLUE, line_kws={'lw': 1.4, 'zorder': 4})
    sns.regplot(x=CR_ax_[i], y=CR_ay[i], ax=ax, scatter=False, ci=None, truncate=True,
                color=RED, line_kws={'lw': 1.4, 'zorder': 4})
    style(ax, (0, 10), (0, 10), [0, 5, 10], [0, 5, 10], frame=GRAYF, lb=GRAYF, fs=9.5)
    ax.text(0.3, 9.8, CR_stats_igg[i], ha='left', va='top', fontsize=7, style='italic',
            color='#2b3bff', linespacing=1.0)
    rx, ry = CR_red_pos[i]
    ax.text(rx, ry, CR_stats_iga[i], ha='left', va='top', fontsize=7, style='italic',
            color=RED, linespacing=1.0, clip_on=False, zorder=5)
    ftext(left - 24, 417, CR_ylabels[i], rotation=90, ha='center', fontsize=10)
    elbow(left - 15, 436, 396, left + 22)
    ftext(left - 16, 449, CR_xlabels[i], ha='left', fontsize=10)
for dy, c, lab in [(397, BLUE, 'IgG'), (412, RED, 'IgA')]:
    fig.add_artist(Line2D([fx(677), fx(689)], [fy(dy), fy(dy)], color=c, lw=2.6))
    ftext(691, dy, lab, ha='left', fontsize=10)

# ======================= PANELS D & E =======================
DE_lefts = [38 + 120 * i for i in range(6)]
DE_w, DE_h = 92, 65
D_igg = [D_N_igg, D_triS_igg, D_S1_igg, D_RBD_igg, D_S2_igg, D_FP_igg]
D_iga = [D_N_iga, D_triS_iga, D_S1_iga, D_RBD_iga, D_S2_iga, D_FP_iga]
E_igg = [E_CoV1_igg, E_MERS_igg, E_HKU1_igg, E_OC43_igg, E_229E_igg, E_NL63_igg]
E_iga = [E_CoV1_iga, E_MERS_iga, E_HKU1_iga, E_OC43_iga, E_229E_iga, E_NL63_iga]


def panel_DE(letter, ly, titles, box_top, top1, top2, igg, iga, red_colors):
    ftext(4, ly, letter, fontsize=16, ha='left')
    for i, left in enumerate(DE_lefts):
        tbox(left - 2, box_top, 96, 20, titles[i], fs=10)
        ax = fig.add_axes(px(left, top1, DE_w, DE_h))
        draw_curves(ax, DE_x, igg[i], BLUE, lw=0.85)
        style(ax, (-2, 2), (0, 4), range(-2, 3), range(0, 5), minor=logminor(-2, 2))
        ax2 = fig.add_axes(px(left, top2, DE_w, DE_h))
        draw_curves(ax2, DE_x, iga[i], red_colors[i], lw=0.85)
        style(ax2, (-2, 2), (0, 4), range(-2, 3), range(0, 5), minor=logminor(-2, 2))
    yb = top2 + DE_h
    ftext(8, yb - 3, r'OD$_\mathrm{405nm}$', rotation=90, ha='center', fontsize=9.5)
    elbow(19, yb + 23, yb - 15, 52)
    ftext(18, yb + 38, '[Ig]', ha='left', fontsize=10)
    ftext(40, yb + 39, r'log$_\mathrm{10}$(µg/ml)', ha='left', fontsize=7.5)
    hlegend(661, yb + 32)


panel_DE('D', 483, D_titles, 473, 498, 590, D_igg, D_iga, [RED, RED, RED, RED, ORANGE, RED])
panel_DE('E', 722, E_titles, 711, 735, 828, E_igg, E_iga, [RED] * 6)

# ======================= PANEL F =======================
ftext(4, 961, 'F', fontsize=16, ha='left')
F_data = [F_FC1, F_FC2, F_FC4, F_FC8, F_FC21, F_CC1, F_CC3, F_CC4, F_CC5]
for i, name in enumerate(F_titles):
    left = 45 + 78.5 * i
    tbox(left - 5, 952, 63, 19, name, fs=10)
    ax = fig.add_axes(px(left, 977, 58, 60))
    ax.axhline(F_cutoff, color='#777777', ls=(0, (3, 2)), lw=0.8, zorder=1)
    draw_curves(ax, F_x, F_data[i], 'black', lw=0.75)
    style(ax, (-1.5, 0.75), (0, 4.36), [-1, 0], range(0, 5), frame=GRAYF, lb='#333333', fs=9,
          minor=logminor(-2, 1, -1.5, 0.75))
    ax.text(1.0, -0.035, '1', transform=ax.get_xaxis_transform(), ha='center', va='top', fontsize=9,
            clip_on=False)
ftext(7, 1043, r'OD$_\mathrm{405nm}$', rotation=90, ha='center', fontsize=9.5)
elbow(19, 1066, 1022, 52)
ftext(18, 1074, '[Ig]', ha='left', fontsize=10)
ftext(40, 1075, r'log$_\mathrm{10}$(µg/ml)', ha='left', fontsize=7.5)

fig.savefig('out.png', dpi=100)
